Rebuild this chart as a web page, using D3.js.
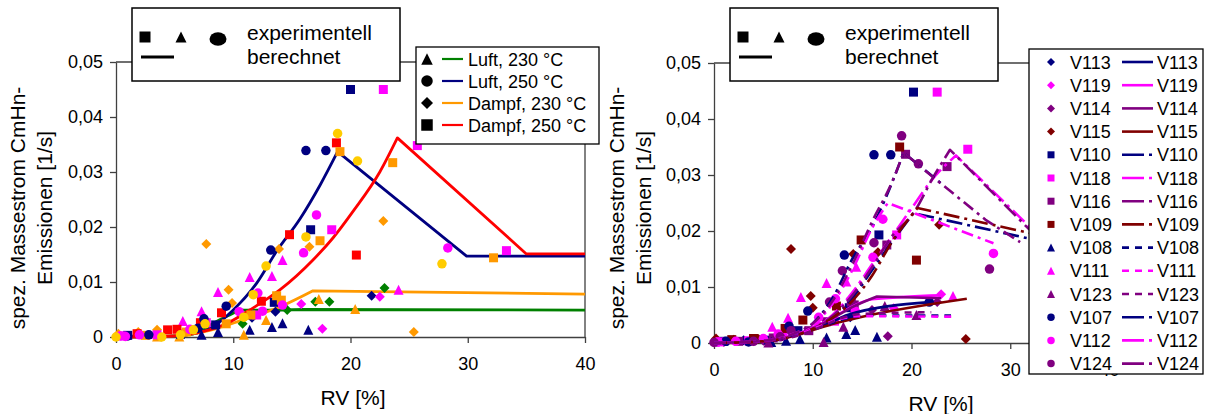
<!DOCTYPE html>
<html><head><meta charset="utf-8">
<script src="https://cdn.jsdelivr.net/npm/d3@7"></script>
<style>body{margin:0;background:#fff} svg{display:block}</style>
</head><body>
<svg id="c" width="1206" height="414"></svg>
<script>
// ---------- shared axis data ----------
const xTicks = [0, 10, 20, 30, 40];
const xTickLabels = ["0", "10", "20", "30", "40"];
const yTicks = [0, 0.01, 0.02, 0.03, 0.04, 0.05];
const yTickLabels = ["0", "0,01", "0,02", "0,03", "0,04", "0,05"];
const yTitle = ["spez. Massestrom CmHn-", "Emissionen [1/s]"];
const xTitle = "RV [%]";
const legendTop = ["experimentell", "berechnet"];

// ---------- LEFT chart: calculated curves ----------
const lineLuft230 = [[0,0],[5,0.0002],[7,0.0008],[8.3,0.0025],[9.5,0.0038],[10.8,0.0049],[13,0.0049],[16,0.005],[40,0.0049]];
const lineLuft250 = [[0,0],[4,0.0001],[6,0.0004],[7.2,0.0009],[8,0.0015],[9,0.003],[10,0.0049],[12,0.0098],[13.7,0.0156],[15.7,0.0215],[17.4,0.0276],[18.9,0.0337],[29.9,0.0147],[40,0.0147]];
const lineDampf230 = [[0,0],[5,0.0002],[8,0.0012],[10.8,0.0031],[14,0.0055],[16.8,0.0084],[40,0.0078]];
const lineDampf250 = [[0,0],[4,0.0001],[7,0.0008],[9.5,0.0025],[11.4,0.0049],[14,0.0086],[16.8,0.014],[18.5,0.018],[20.2,0.0228],[22.5,0.03],[24,0.0362],[35,0.0151],[40,0.0151]];
const leftLegendLabels = ["Luft, 230 °C", "Luft, 250 °C", "Dampf, 230 °C", "Dampf, 250 °C"];

// ---------- LEFT chart: measured points ----------
const lSqNavy = [[20,0.045],[16.6,0.0195],[13.5,0.0063],[1,0.0003],[5.5,0.0005],[8.5,0.0022]];
const lSqMagenta = [[22.8,0.045],[25.7,0.0348],[18.4,0.0195],[12,0.004],[33.3,0.0157],[0.6,0.0002],[3.5,0.0004],[7.7,0.0026]];
const lSqRed = [[18.8,0.0353],[14.8,0.0186],[20.5,0.0149],[9,0.0044],[12.4,0.0065],[1.8,0.0006],[4.4,0.0013],[5.2,0.0014],[7.2,0.0026]];
const lSqOrange = [[19.1,0.0337],[23.6,0.0317],[17.4,0.0175],[13.7,0.0075],[14.1,0.0067],[11.5,0.004],[9.4,0.0024],[32.2,0.0144],[2.5,0.0003],[6,0.0009]];
const lCiNavy = [[16.2,0.0339],[17.9,0.0339],[13.2,0.0158],[9.4,0.0056],[7.5,0.0033],[1,0.0002],[2.8,0.0004],[7,0.0016]];
const lCiMagenta = [[17.1,0.0222],[16,0.0153],[12.1,0.008],[10.5,0.0046],[14.2,0.0058],[12.5,0.0047],[28.3,0.0162],[0.4,0.0002],[0.8,0.0001],[2,0.0004],[6.3,0.0014]];
const lCiGold = [[18.9,0.037],[20.6,0.032],[16.2,0.0182],[12.8,0.0129],[11.7,0.0077],[10.9,0.0036],[7.6,0.0024],[6.6,0.0013],[5.5,0.0004],[3.9,0],[0,0],[27.8,0.0133]];
const lTrNavy = [[16.4,0.0013],[11.4,0.0013],[13.3,0.0018],[14.2,0.0025],[8.7,0.0009],[7.3,0.0004]];
const lTrMagenta = [[14.2,0.014],[11.4,0.0109],[13.3,0.0111],[8.7,0.0082],[7.3,0.0047],[5.7,0.0029],[24.1,0.0086]];
const lTrOrange = [[17.3,0.0069],[20.4,0.0051],[10.9,0.0004],[12.8,0.0031],[5.4,0.0001],[3.5,0.0001]];
const lDiGreen = [[14.6,0.0049],[17,0.0064],[18.2,0.0064],[22.9,0.0089],[10.8,0.0024]];
const lDiOrange = [[7.7,0.0169],[22.8,0.0211],[16.5,0.0164],[13.9,0.016],[9.6,0.0086],[9.9,0.0062],[25.4,0.0009],[1.9,0.0009],[3.5,0.0013],[0.2,0.0006]];
const lDiNavy = [[13.6,0.0046],[21.8,0.0075],[11.6,0.0035]];
const lDiMagenta = [[15.8,0.006],[22.5,0.0073],[17.6,0.0015]];

// ---------- RIGHT chart: series names ----------
const rightNames = ["V113","V119","V114","V115","V110","V118","V116","V109","V108","V111","V123","V107","V112","V124"];

// ---------- RIGHT chart: measured points ----------
const pV113 = [[0.3,0.0002],[3,0.0005],[6.5,0.0012],[13.8,0.0046]];
const pV119 = [[0.5,0.0002],[4,0.0003],[18.2,0.0062],[23,0.0087],[10.4,0.0035]];
const pV114 = [[1,0.0002],[5,0.0004],[16,0.0059],[22.6,0.0073],[17.6,0.0012],[12,0.0042]];
const pV115 = [[0.2,0.0008],[2,0.0006],[4.5,0.0007],[7.8,0.0168],[22.8,0.0211],[14.1,0.0159],[16.6,0.0162],[9.8,0.0084],[10,0.0063],[25.5,0.0007]];
const pV110 = [[20.2,0.0448],[16.7,0.0193],[13.7,0.0063],[1,0.0003],[5.5,0.0005],[8.5,0.0022]];
const pV118 = [[22.6,0.0448],[25.7,0.0346],[18.5,0.0193],[12.2,0.0039],[0.6,0.0002],[3.5,0.0004],[7,0.0012]];
const pV116 = [[19.4,0.0337],[23.6,0.0315],[17.5,0.0175],[11.4,0.0038],[13.9,0.0073],[14.2,0.0068],[2.5,0.0003],[6,0.0009],[9.6,0.0022]];
const pV109 = [[18.8,0.035],[14.9,0.0184],[20.5,0.0148],[9,0.0041],[12.4,0.0066],[1.8,0.0006],[4,0.0008],[7.2,0.0026]];
const pV108 = [[11.4,0.001],[13.4,0.0016],[14.3,0.0023],[16.5,0.0011],[8.7,0.0007],[5.8,0.0002],[7.3,0.0004]];
const pV111 = [[14.4,0.0136],[11.4,0.0107],[13.4,0.011],[8.8,0.0082],[7.5,0.0045],[5.9,0.0029],[24.2,0.0084]];
const pV123 = [[17.3,0.0066],[20.5,0.005],[11.1,0.0002],[13.1,0.0029],[5.5,0.0001]];
const pV107 = [[16.2,0.0336],[17.9,0.0336],[13.2,0.0157],[9.5,0.0057],[7.6,0.003],[21.8,0.0073],[1.2,0.0003],[3.5,0.0002]];
const pV112 = [[17.1,0.0221],[16.1,0.0153],[28.3,0.016],[12.3,0.0079],[10.6,0.0046],[14.3,0.0057],[0.4,0.0002],[2.2,0.0003],[5,0.0008],[6.5,0.0016]];
const pV124 = [[19,0.037],[20.7,0.032],[16.2,0.0179],[13,0.0129],[11.7,0.0073],[27.9,0.0132],[7.8,0.0022],[6.7,0.0011],[0,0.0001],[4,0.0003]];

// ---------- RIGHT chart: calculated lines ----------
const cV113 = [[0,0],[5,0.0003],[8,0.0013],[10,0.0025],[12,0.0038],[13.5,0.005],[21.9,0.0073]];
const cV119 = [[0,0],[5,0.0003],[8,0.0014],[10,0.0027],[12,0.0045],[14,0.0065],[16,0.0078],[23,0.0085]];
const cV114 = [[0,0],[5,0.0003],[8,0.0013],[10,0.0026],[12,0.0044],[14,0.0064],[16.5,0.0083],[23,0.008]];
const cV115 = [[0,0],[5,0.0003],[8,0.0012],[10,0.0023],[12,0.0034],[14.8,0.0046],[25.6,0.0079]];
const cV110 = [[0,0],[5,0.0003],[8,0.0012],[10,0.0025],[12,0.0045],[14,0.008],[16,0.013],[18,0.018],[20.2,0.0232],[40,0.0155]];
const cV118 = [[0,0],[5,0.0003],[8,0.0013],[10,0.0027],[12,0.005],[14,0.009],[16,0.014],[18,0.019],[20,0.024],[22,0.029],[24.5,0.0335],[32,0.0207],[40,0.01]];
const cV116 = [[0,0],[5,0.0003],[8,0.0012],[10,0.0026],[12,0.0048],[14,0.0085],[16,0.0135],[18,0.019],[20.2,0.0232],[22.2,0.0296],[23.9,0.0345],[31.8,0.0205],[40,0.009]];
const cV109 = [[0,0],[5,0.0003],[8,0.0012],[10,0.0025],[12,0.0045],[14,0.0075],[16,0.012],[18,0.018],[20.6,0.0241],[40,0.0165]];
const cV108 = [[0,0],[6,0.0005],[9,0.0018],[11,0.003],[13,0.0042],[15,0.0049],[24,0.0049]];
const cV111 = [[0,0],[6,0.0005],[9,0.0018],[11,0.0032],[13,0.0044],[14.5,0.0048],[24.2,0.0047]];
const cV123 = [[0,0],[6,0.0005],[9,0.0016],[11,0.003],[13,0.0045],[15,0.0052],[22,0.0055]];
const cV107 = [[0,0],[5,0.0004],[8,0.0015],[10,0.0035],[12,0.008],[14,0.015],[16.1,0.021],[18,0.0285],[19.2,0.034],[23,0.0285]];
const cV112 = [[0,0],[5,0.0004],[8,0.0016],[10,0.0033],[12,0.007],[14,0.013],[16,0.0205],[17.6,0.025],[28.3,0.0178]];
const cV124 = [[0,0],[5,0.0004],[8,0.0016],[10,0.0035],[12,0.0075],[14,0.014],[16.1,0.022],[18,0.0286],[19.2,0.034],[22.2,0.0296],[27.5,0.022],[31,0.018]];

// ---------- styles ----------
const FONT = '"Liberation Sans", Arial, sans-serif';
const AX = "#404040";
const C = {navy:"#000080", magenta:"#FF00FF", purple:"#800080", maroon:"#800000", red:"#FF0000", orange:"#FF9900", gold:"#FFCC00", green:"#008000"};
const msize = {square:9, circle:9.5, triangle:10, diamond:10};

function sym(shape, s){
  const h = s/2;
  if (shape==="square") return `M${-h},${-h}h${s}v${s}h${-s}Z`;
  if (shape==="triangle") return `M0,${-h}L${h},${h}L${-h},${h}Z`;
  if (shape==="diamond") return `M0,${-h}L${h},0L0,${h}L${-h},0Z`;
  return `M${h},0A${h},${h} 0 1,1 ${-h},0A${h},${h} 0 1,1 ${h},0Z`;
}

const svg = d3.select("#c").attr("font-family", FONT);

function axes(x, y, xTitleX, yTitleXs){
  const g = svg.append("g");
  const x0 = x.range()[0], x1 = x.range()[1], yb = y.range()[0], yt = y.range()[1];
  g.append("path").attr("d", `M${x0},${yt}H${x1}V${yb}`).attr("fill","none").attr("stroke",AX).attr("stroke-width",1.3);
  const ya = g.append("g").attr("transform",`translate(${x0},0)`)
    .call(d3.axisLeft(y).tickValues(yTicks).tickFormat((d,i)=>yTickLabels[i]).tickSize(6).tickSizeOuter(0).tickPadding(7));
  const xa = g.append("g").attr("transform",`translate(0,${yb})`)
    .call(d3.axisBottom(x).tickValues(xTicks).tickFormat((d,i)=>xTickLabels[i]).tickSize(6).tickSizeOuter(0).tickPadding(14));
  [ya, xa].forEach(a => {
    a.attr("font-size", 18).attr("font-family", FONT);
    a.selectAll("path,line").attr("stroke", AX).attr("stroke-width", 1.3);
    a.selectAll("text").attr("fill", "#000");
  });
  g.append("text").attr("x", xTitleX).attr("y", yb + 68).attr("text-anchor","middle")
    .attr("font-size", 21).text(xTitle);
  yTitle.forEach((t,i)=>{
    g.append("text").attr("transform",`translate(${yTitleXs[i]},208) rotate(-90)`)
      .attr("text-anchor","middle").attr("dy","0.35em").attr("font-size",21).text(t);
  });
}

// smooth rising part (monotone) up to the maximum, straight segments afterwards
function drawLine(x, y, data, color, dash, w){
  let im = 0;
  data.forEach((d,i)=>{ if (d[1] > data[im][1]) im = i; });
  const rise = data.slice(0, im+1), fall = data.slice(im);
  const smooth = d3.line().x(d=>x(d[0])).y(d=>y(d[1])).curve(d3.curveMonotoneX)(rise);
  const straight = fall.length > 1 ? fall.slice(1).map(d=>`L${x(d[0])},${y(d[1])}`).join("") : "";
  svg.append("path").attr("d", smooth + straight)
    .attr("fill","none").attr("stroke",color).attr("stroke-width",w||2.6)
    .attr("stroke-dasharray", dash || null).attr("stroke-linejoin","round");
}
function drawPts(x, y, data, shape, color){
  svg.append("g").selectAll("path").data(data).join("path")
    .attr("transform", d=>`translate(${x(d[0])},${y(d[1])})`)
    .attr("d", sym(shape, msize[shape])).attr("fill", color);
}
function topLegend(bx){
  const g = svg.append("g");
  g.append("rect").attr("x",bx).attr("y",8).attr("width",268).attr("height",73)
    .attr("fill","#fff").attr("stroke","#000").attr("stroke-width",1.5);
  g.append("path").attr("transform",`translate(${bx+13},37)`).attr("d",sym("square",11));
  g.append("path").attr("transform",`translate(${bx+49},37)`).attr("d",sym("triangle",11));
  g.append("ellipse").attr("cx",bx+86).attr("cy",39).attr("rx",8.5).attr("ry",6.8);
  g.append("line").attr("x1",bx+9).attr("x2",bx+42).attr("y1",57).attr("y2",57).attr("stroke","#000").attr("stroke-width",3.2);
  g.append("text").attr("x",bx+115).attr("y",40).attr("font-size",21).text(legendTop[0]);
  g.append("text").attr("x",bx+115).attr("y",64).attr("font-size",21).text(legendTop[1]);
}

// ================= LEFT CHART =================
const xL = d3.scaleLinear().domain([0,40]).range([116,585]);
const yL = d3.scaleLinear().domain([0,0.05]).range([337,62]);
axes(xL, yL, 353, [18, 45]);

const leftLines = [[lineLuft230, C.green], [lineLuft250, C.navy], [lineDampf230, C.orange], [lineDampf250, C.red]];
leftLines.forEach(([d,c]) => drawLine(xL, yL, d, c, null, 2.8));

[[lDiGreen,"diamond",C.green],[lDiOrange,"diamond",C.orange],[lDiNavy,"diamond",C.navy],[lDiMagenta,"diamond",C.magenta],
 [lTrNavy,"triangle",C.navy],[lTrMagenta,"triangle",C.magenta],[lTrOrange,"triangle",C.orange],
 [lSqNavy,"square",C.navy],[lSqMagenta,"square",C.magenta],[lSqRed,"square",C.red],[lSqOrange,"square",C.orange],
 [lCiNavy,"circle",C.navy],[lCiMagenta,"circle",C.magenta],[lCiGold,"circle",C.gold]
].forEach(([d,s,c]) => drawPts(xL, yL, d, s, c));

topLegend(132);
{
  const g = svg.append("g");
  g.append("rect").attr("x",416).attr("y",47).attr("width",183).attr("height",97)
    .attr("fill","#fff").attr("stroke","#000").attr("stroke-width",1.3);
  const shapes = ["triangle","circle","diamond","square"];
  const cols = [C.green, C.navy, C.orange, C.red];
  leftLegendLabels.forEach((t,i)=>{
    const yy = 59 + i*22;
    g.append("path").attr("transform",`translate(427,${yy})`).attr("d",sym(shapes[i], shapes[i]==="diamond"?12:11.5));
    g.append("line").attr("x1",442).attr("x2",463).attr("y1",yy).attr("y2",yy).attr("stroke",cols[i]).attr("stroke-width",2.2);
    g.append("text").attr("x",468).attr("y",yy+6.5).attr("font-size",18).text(t);
  });
}

// ================= RIGHT CHART =================
const xR = d3.scaleLinear().domain([0,40]).range([714,1109]);
const yR = d3.scaleLinear().domain([0,0.05]).range([343,63]);
axes(xR, yR, 941, [617, 644]);

const rPts = [pV113,pV119,pV114,pV115,pV110,pV118,pV116,pV109,pV108,pV111,pV123,pV107,pV112,pV124];
const rLines = [cV113,cV119,cV114,cV115,cV110,cV118,cV116,cV109,cV108,cV111,cV123,cV107,cV112,cV124];
const rCols = [C.navy,C.magenta,C.purple,C.maroon, C.navy,C.magenta,C.purple,C.maroon, C.navy,C.magenta,C.purple, C.navy,C.magenta,C.purple];
const rShapes = ["diamond","diamond","diamond","diamond","square","square","square","square","triangle","triangle","triangle","circle","circle","circle"];
const rDash = [null,null,null,null, "16,5,3,5","16,5,3,5","16,5,3,5","16,5,3,5", "7,6","7,6","7,6", "12,5,3,5","12,5,3,5","12,5,3,5"];

rPts.forEach((d,i)=> drawPts(xR, yR, d, rShapes[i], rCols[i]));
rLines.forEach((d,i)=> drawLine(xR, yR, d, rCols[i], rDash[i], 2.6));

topLegend(730);
{
  const g = svg.append("g");
  g.append("rect").attr("x",1029).attr("y",49).attr("width",174).attr("height",325)
    .attr("fill","#fff").attr("stroke","#000").attr("stroke-width",1.3);
  const ls = {square:7, circle:7.5, triangle:8, diamond:8};
  rightNames.forEach((n,i)=>{
    const yy = 62 + i*23.2;
    g.append("path").attr("transform",`translate(1051,${yy})`).attr("d",sym(rShapes[i], ls[rShapes[i]])).attr("fill",rCols[i]);
    g.append("text").attr("x",1070).attr("y",yy+6.5).attr("font-size",18).text(n);
    g.append("line").attr("x1",1122).attr("x2",1153).attr("y1",yy).attr("y2",yy)
      .attr("stroke",rCols[i]).attr("stroke-width",2.6).attr("stroke-dasharray", rDash[i] ? (i>=8 && i<11 ? "7,6" : "22,5,3,5") : null);
    g.append("text").attr("x",1157).attr("y",yy+6.5).attr("font-size",18).text(n);
  });
}
</script>
</body></html>
